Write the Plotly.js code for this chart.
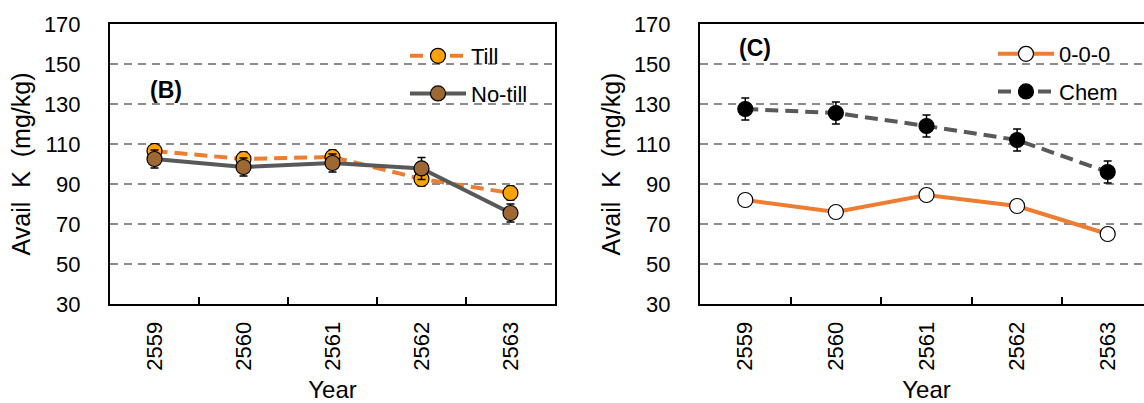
<!DOCTYPE html>
<html>
<head>
<meta charset="utf-8">
<script src="https://cdn.plot.ly/plotly-3.0.1.min.js"></script>
<style>
  html, body { margin: 0; padding: 0; background: #fff; overflow: hidden; }
  #chart { width: 1200px; height: 403px; }
</style>
</head>
<body>
<div id="chart"></div>
<script>
// ---- data ----
const years = ['2559', '2560', '2561', '2562', '2563'];

const tillK     = [106.5, 102.5, 103.5, 92.5, 85.5];
const tillErr   = [3.5, 3.5, 3.5, 3.5, 3.5];
const noTillK   = [102.5, 98.5, 100.5, 97.8, 75.5];
const noTillErr = [4.5, 4.5, 4.5, 5.5, 4.5];

const controlK   = [82, 76, 84.5, 79, 65];
const controlErr = [2, 2, 2, 2, 2];
const chemK      = [127.5, 125.5, 119, 112, 96];
const chemErr    = [5.5, 5.5, 5.5, 5.5, 5.5];

const yTicks = [30, 50, 70, 90, 110, 130, 150, 170];

// ---- styling ----
const W = 1200, H = 403;
const FONT = 'Liberation Sans, Arial, sans-serif';
const ORANGE = '#ED7D31';
const GRAY = '#595959';
const px = v => v / W;               // horizontal pixel -> paper
const py = v => (304 - v) / 280;     // vertical pixel -> paper (plot 24..304)

function errBar(arr) {
  return { type: 'data', array: arr, visible: true, color: '#000', thickness: 1.5, width: 4 };
}

const traces = [
  {
    x: years, y: tillK, name: 'Till', type: 'scatter', mode: 'lines+markers',
    xaxis: 'x', yaxis: 'y', legend: 'legend', legendgroup: 'a',
    line: { color: ORANGE, width: 4, dash: '13px,7px' },
    marker: { size: 15, color: '#FFA200', line: { color: '#000', width: 1.2 } },
    error_y: errBar(tillErr)
  },
  {
    x: years, y: noTillK, name: 'No-till', type: 'scatter', mode: 'lines+markers',
    xaxis: 'x', yaxis: 'y', legend: 'legend', legendgroup: 'b',
    line: { color: GRAY, width: 4 },
    marker: { size: 15, color: '#9E6832', line: { color: '#000', width: 1.2 } },
    error_y: errBar(noTillErr)
  },
  {
    x: years, y: controlK, name: '0-0-0', type: 'scatter', mode: 'lines+markers',
    xaxis: 'x2', yaxis: 'y2', legend: 'legend2', legendgroup: 'c',
    line: { color: ORANGE, width: 4 },
    marker: { size: 15, color: '#FFFFFF', line: { color: '#000', width: 1.2 } },
    error_y: errBar(controlErr)
  },
  {
    x: years, y: chemK, name: 'Chem', type: 'scatter', mode: 'lines+markers',
    xaxis: 'x2', yaxis: 'y2', legend: 'legend2', legendgroup: 'd',
    line: { color: GRAY, width: 4, dash: '13px,7px' },
    marker: { size: 15, color: '#000000', line: { color: '#000', width: 1.2 } },
    error_y: errBar(chemErr)
  }
];

function xAxis(domain, anchor) {
  return {
    domain: domain, anchor: anchor, type: 'category',
    range: [-0.5, 4.5], tickangle: -90,
    ticks: 'inside', tickson: 'boundaries', ticklen: 7, tickwidth: 2, tickcolor: '#000',
    ticklabelstandoff: 7,
    showline: true, linecolor: '#000', linewidth: 2, mirror: true,
    showgrid: false, zeroline: false,
    tickfont: { family: FONT, size: 22, color: '#000' },
    title: { text: 'Year', font: { family: FONT, size: 24, color: '#000' }, standoff: 14 },
    automargin: false
  };
}
function yAxis(domain, anchor) {
  return {
    domain: domain, anchor: anchor,
    range: [30, 170], tickvals: yTicks, ticktext: yTicks.map(String),
    ticks: '', ticklabelstandoff: 23,
    showline: true, linecolor: '#000', linewidth: 2, mirror: true,
    showgrid: true, gridcolor: '#8C8C8C', gridwidth: 1.5, griddash: '8px,6px',
    zeroline: false,
    tickfont: { family: FONT, size: 22, color: '#000' },
    title: { text: 'Avail  K  (mg/kg)', font: { family: FONT, size: 25, color: '#000' }, standoff: 6 },
    automargin: false
  };
}

const legendBase = {
  xanchor: 'left', yanchor: 'top', itemwidth: 56,
  bgcolor: 'rgba(0,0,0,0)', borderwidth: 0, tracegroupgap: 6,
  font: { family: FONT, size: 22, color: '#000' }
};

const layout = {
  width: W, height: H,
  margin: { l: 0, r: 0, t: 24, b: 99 },
  paper_bgcolor: '#fff', plot_bgcolor: '#fff',
  font: { family: FONT, color: '#000' },
  xaxis: xAxis([px(110), px(555)], 'y'),
  yaxis: yAxis([0, 1], 'x'),
  xaxis2: xAxis([px(700), px(1153)], 'y2'),
  yaxis2: yAxis([0, 1], 'x2'),
  legend: Object.assign({}, legendBase, { x: px(405), y: py(35) }),
  legend2: Object.assign({}, legendBase, { x: px(993), y: py(33) }),
  annotations: [
    { text: '<b>(B)</b>', xref: 'paper', yref: 'paper', x: px(166), y: py(90),
      xanchor: 'center', yanchor: 'middle', showarrow: false,
      font: { family: FONT, size: 23, color: '#000' } },
    { text: '<b>(C)</b>', xref: 'paper', yref: 'paper', x: px(755), y: py(48),
      xanchor: 'center', yanchor: 'middle', showarrow: false,
      font: { family: FONT, size: 23, color: '#000' } }
  ],
  showlegend: true
};

Plotly.newPlot('chart', traces, layout, { staticPlot: true, displayModeBar: false });
</script>
</body>
</html>
